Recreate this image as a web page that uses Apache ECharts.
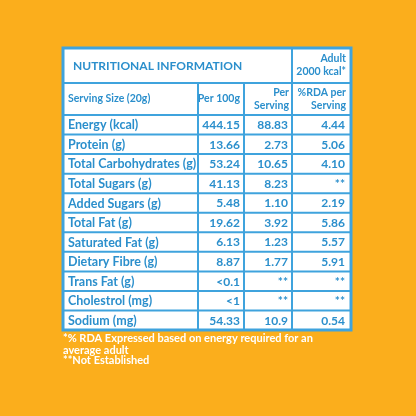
<!DOCTYPE html><html><head><meta charset="utf-8">
<script src="https://cdn.jsdelivr.net/npm/echarts@6/dist/echarts.min.js"></script>
<style>html,body{margin:0;padding:0;background:#FBAE1C}#c{width:416px;height:416px}</style></head>
<body><div id="c"></div><script>
const nutrients=["Energy (kcal)","Protein (g)","Total Carbohydrates (g)","Total Sugars (g)","Added Sugars (g)","Total Fat (g)","Saturated Fat (g)","Dietary Fibre (g)","Trans Fat (g)","Cholestrol (mg)","Sodium (mg)"];
const per100g=["444.15","13.66","53.24","41.13","5.48","19.62","6.13","8.87","<0.1","<1","54.33"];
const perServing=["88.83","2.73","10.65","8.23","1.10","3.92","1.23","1.77","**","**","10.9"];
const rdaPerServing=["4.44","5.06","4.10","**","2.19","5.86","5.57","5.91","**","**","0.54"];
const title="NUTRITIONAL INFORMATION";
const adultLabel=["Adult","2000 kcal*"];
const colHeaders=["Serving Size (20g)","Per 100g","Per\nServing","%RDA per\nServing"];
const footnotes=["*% RDA Expressed based on energy required for an\naverage adult","**Not Established"];

const blue="#2B8FCC",line="#3FA3DD",F="Lato,'Open Sans',sans-serif";
const xs=[63,198,244,292,351];
const y0=48,y1=83,y2=115,rh=19.55;
const g=[];
const yEnd=y2+rh*nutrients.length;
g.push({type:'rect',shape:{x:xs[0],y:y0,width:xs[4]-xs[0],height:yEnd-y0},style:{fill:'#fff',stroke:line,lineWidth:3}});
function hl(y){g.push({type:'line',shape:{x1:xs[0],y1:y,x2:xs[4],y2:y},style:{stroke:line,lineWidth:2}});}
function vl(x,a,b){g.push({type:'line',shape:{x1:x,y1:a,x2:x,y2:b},style:{stroke:line,lineWidth:2}});}
hl(y1);hl(y2);for(let i=1;i<nutrients.length;i++)hl(y2+rh*i);
vl(xs[3],y0,yEnd);vl(xs[1],y1,yEnd);vl(xs[2],y1,yEnd);
function t(x,y,s,align,size,lh){g.push({type:'text',x:x,y:y,style:{text:s,fill:blue,font:'bold '+size+'px '+F,align:align,verticalAlign:'middle',lineHeight:lh||size+2}});}
t(73,(y0+y1)/2+1,title,'left',12);
t(xs[4]-5,(y0+y1)/2,adultLabel.join('\n'),'right',10.5,13);
t(68,(y1+y2)/2,colHeaders[0],'left',10.5);
t(xs[2]-4,(y1+y2)/2,colHeaders[1],'right',10.5);
t(xs[3]-3,(y1+y2)/2,colHeaders[2],'right',10.5,13);
t(xs[4]-5,(y1+y2)/2,colHeaders[3],'right',10.5,13);
nutrients.forEach((n,i)=>{const cy=y2+rh*i+rh/2+0.5;
 t(68,cy,n,'left',12.5);t(xs[2]-4,cy,per100g[i],'right',12);t(xs[3]-4,cy,perServing[i],'right',12);t(xs[4]-6,cy,rdaPerServing[i],'right',12);});
g.push({type:'text',x:63,y:332,style:{text:footnotes[0],fill:'#fff',font:'bold 11px '+F,lineHeight:12,verticalAlign:'top'}});
g.push({type:'text',x:63,y:355,style:{text:footnotes[1],fill:'#fff',font:'bold 11px '+F,verticalAlign:'top'}});
const ch=echarts.init(document.getElementById('c'));
ch.setOption({backgroundColor:'#FBAE1C',graphic:g});
</script></body></html>
